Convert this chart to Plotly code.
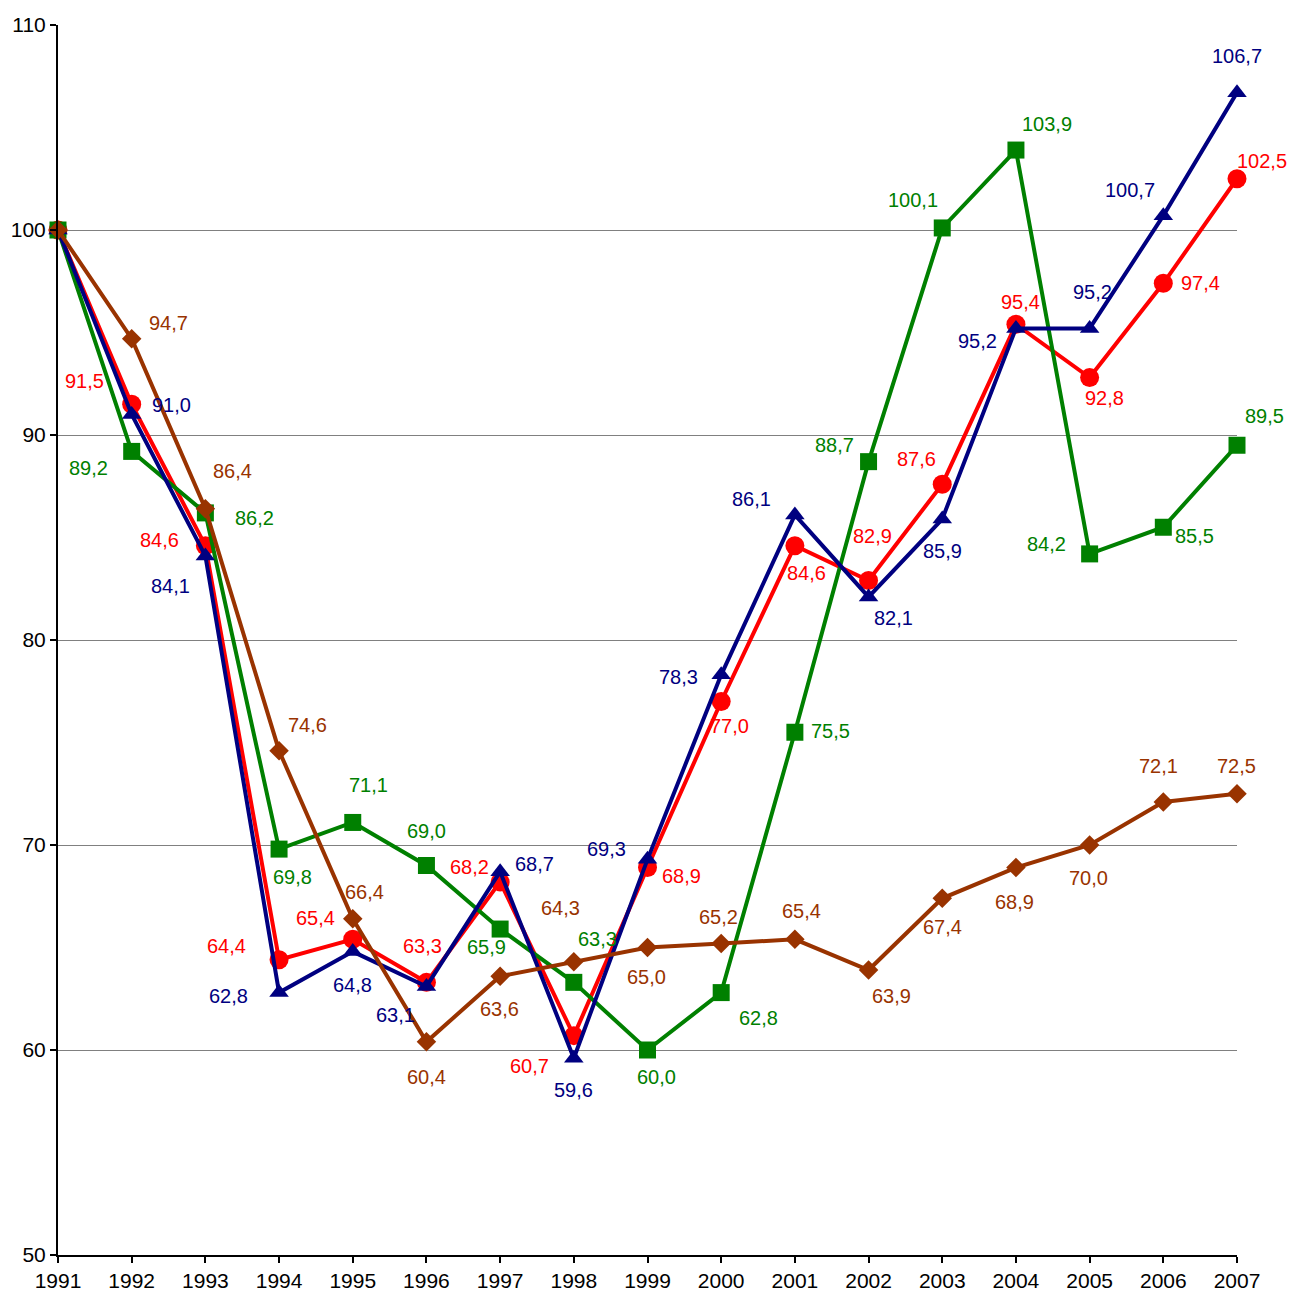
import plotly.graph_objects as go

years = list(range(1991, 2008))

red_vals = [100.0, 91.5, 84.6, 64.4, 65.4, 63.3, 68.2, 60.7, 68.9, 77.0, 84.6, 82.9, 87.6, 95.4, 92.8, 97.4, 102.5]
blue_vals = [100.0, 91.0, 84.1, 62.8, 64.8, 63.1, 68.7, 59.6, 69.3, 78.3, 86.1, 82.1, 85.9, 95.2, 95.2, 100.7, 106.7]
green_vals = [100.0, 89.2, 86.2, 69.8, 71.1, 69.0, 65.9, 63.3, 60.0, 62.8, 75.5, 88.7, 100.1, 103.9, 84.2, 85.5, 89.5]
brown_vals = [100.0, 94.7, 86.4, 74.6, 66.4, 60.4, 63.6, 64.3, 65.0, 65.2, 65.4, 63.9, 67.4, 68.9, 70.0, 72.1, 72.5]

y_ticks = [50, 60, 70, 80, 90, 100, 110]

# label pixel offsets (dx, dy) for years 1992..2007 (screen coords, dy down)
red_off = [(-47, -23), (-46, -6), (-53, -14), (-37, -21), (-4, -36), (-31, -15), (-44, 30), (34, 8),
           (8, 24), (12, 27), (4, -45), (-26, -25), (5, -22), (15, 20), (37, 0), (25, -18)]
blue_off = [(40, -10), (-35, 30), (-51, 3), (0, 33), (-31, 29), (34, -8), (0, 32), (-41, -10),
            (-43, 2), (-43, -16), (25, 21), (0, 32), (-38, 13), (3, -36), (-33, -26), (0, -37)]
green_off = [(-43, 17), (49, 5), (13, 28), (16, -37), (0, -35), (-14, 18), (24, -43), (9, 27),
             (37, 25), (36, -1), (-34, -17), (-29, -28), (31, -26), (-43, -10), (31, 9), (27, -29)]
brown_off = [(37, -16), (27, -38), (28, -26), (12, -27), (0, 35), (-1, 33), (-13, -54), (-1, 29),
             (-3, -26), (7, -28), (23, 26), (0, 29), (-1, 34), (-1, 33), (-5, -36), (-1, -28)]

series = [
    ("red", red_vals, "#FF0000", "circle", 19, red_off),
    ("green", green_vals, "#008000", "square", 17, green_off),
    ("blue", blue_vals, "#000080", "triangle-up", 17, blue_off),
    ("brown", brown_vals, "#993300", "diamond", 15, brown_off),
]

FONT = "Liberation Sans, Arial, sans-serif"

fig = go.Figure()
annotations = []
for name, vals, color, sym, size, offs in series:
    fig.add_trace(go.Scatter(
        x=years, y=vals, mode="lines+markers", name=name,
        line=dict(color=color, width=4),
        marker=dict(symbol=sym, size=size, color=color, line=dict(width=0)),
        cliponaxis=False, showlegend=False,
    ))
    for yr, v, (dx, dy) in zip(years[1:], vals[1:], offs):
        annotations.append(dict(
            x=yr, y=v, xref="x", yref="y", showarrow=False,
            text=f"{v:.1f}".replace(".", ","),
            xshift=dx, yshift=-dy,
            font=dict(family=FONT, size=20, color=color),
        ))

fig.update_layout(
    width=1290, height=1293,
    margin=dict(l=58, r=53, t=25, b=38, autoexpand=False),
    plot_bgcolor="white", paper_bgcolor="white",
    annotations=annotations,
    font=dict(family=FONT, size=21, color="black"),
)
fig.update_xaxes(
    range=[1991, 2007], tickmode="array", tickvals=years, ticktext=[str(y) for y in years],
    showgrid=False, zeroline=False, showline=True, linecolor="black", linewidth=2,
    ticks="outside", ticklen=6, tickwidth=2, tickcolor="black", automargin=False,
    tickfont=dict(family=FONT, size=21, color="black"),
)
fig.update_yaxes(
    range=[50, 110], tickmode="array", tickvals=y_ticks, ticktext=[str(t) for t in y_ticks],
    showgrid=True, gridcolor="#808080", gridwidth=1, zeroline=False,
    showline=True, linecolor="black", linewidth=2, automargin=False,
    ticks="outside", ticklen=6, tickwidth=2, tickcolor="black",
    tickfont=dict(family=FONT, size=21, color="black"),
)

fig.write_html(
    "out.html",
    config={"displayModeBar": False},
    post_script="document.body.style.margin='0';document.body.style.overflow='hidden';",
)
